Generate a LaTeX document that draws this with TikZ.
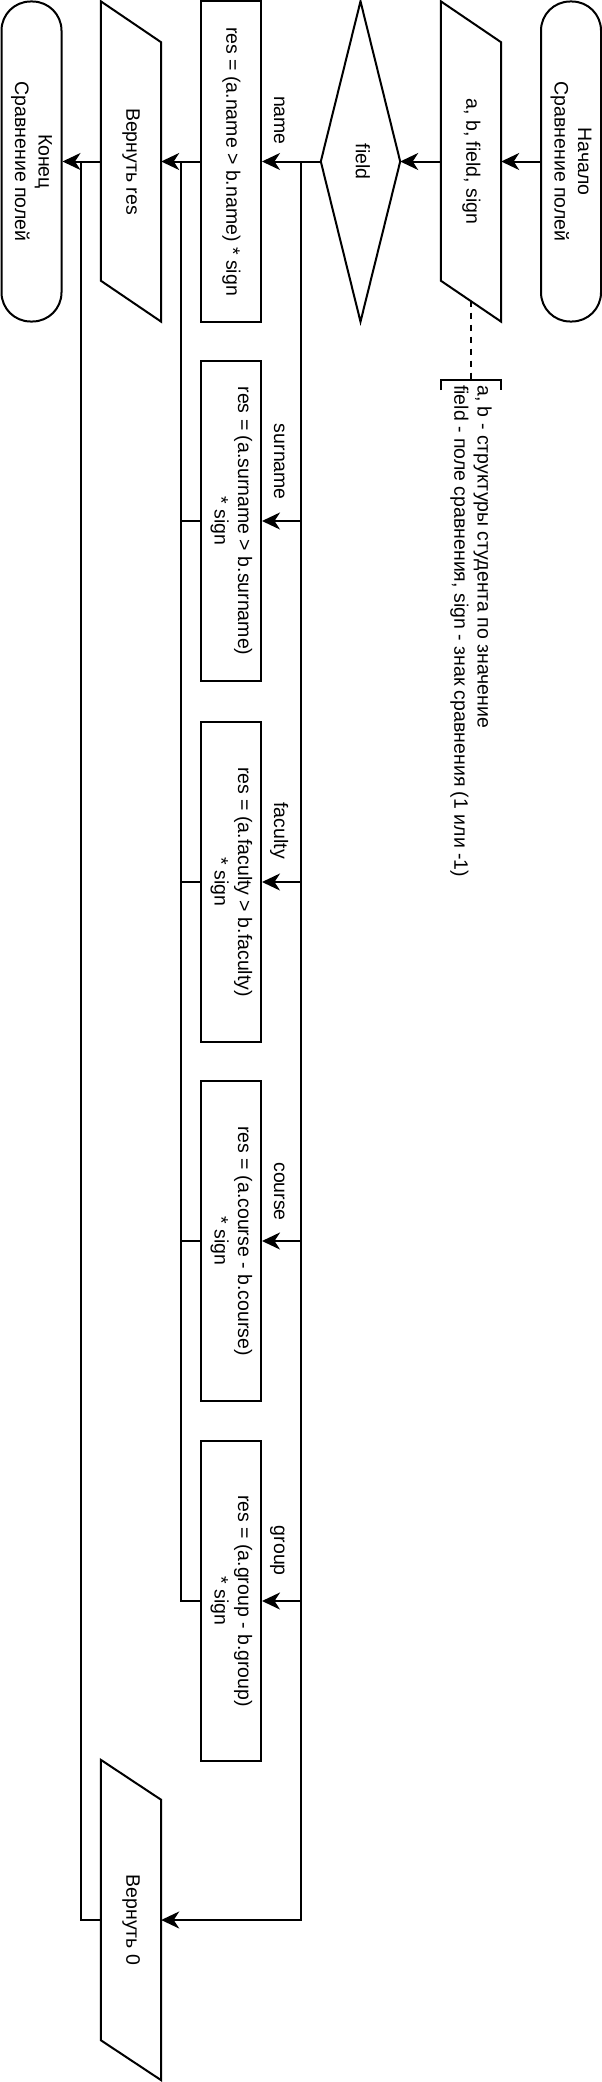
\documentclass[tikz,border=0pt]{standalone}
\usepackage{fontspec}
\setmainfont{Liberation Sans}
\usepackage{graphicx}
\usetikzlibrary{arrows.meta}
\newcommand{\rt}[1]{\rotatebox{-90}{\begin{tabular}{@{}c@{}}#1\end{tabular}}}
\begin{document}
\begin{tikzpicture}[x=1pt,y=-1pt,
  every node/.style={font=\fontsize{19.5}{23.4}\selectfont},
  ln/.style={line width=2pt},
  arr/.style={ln,-{Stealth[length=18pt,width=17pt,inset=5.5pt]}},
  shp/.style={minimum width=60pt,minimum height=320pt,inner sep=0pt},
  term/.style={shp,draw,ln,rounded corners=29pt},
  proc/.style={shp,draw,ln},
  lbl/.style={rotate=-90,anchor=base east,inner sep=0pt},
  dsh/.style={ln,dash pattern=on 6pt off 6pt}]
\path[use as bounding box] (0,0) rectangle (602,2082);
% main row
\node[term] (start) at (571,161.5) {\rt{Начало\\Сравнение полей}};
\node[shp] (in) at (471,161.5) {\rt{a, b, field, sign}};
\draw[ln] (in.north west) -- ([yshift=-41pt]in.north east) -- (in.south east) -- ([yshift=41pt]in.south west) -- cycle;
\node[shp,minimum width=79pt] (field) at (360.5,161.5) {\rt{field}};
\draw[ln] (field.north) -- (field.east) -- (field.south) -- (field.west) -- cycle;
\node[proc] (bname) at (231,161.5) {\rt{res = (a.name > b.name) * sign}};
\node[shp] (rres) at (131,161.5) {\rt{Вернуть res}};
\draw[ln] (rres.north west) -- ([yshift=-41pt]rres.north east) -- (rres.south east) -- ([yshift=41pt]rres.south west) -- cycle;
\node[term] (fin) at (31.5,161.5) {\rt{Конец\\Сравнение полей}};
% other branches
\node[proc] (bsur) at (231,521) {\rt{res = (a.surname > b.surname)\\{*} sign}};
\node[proc] (bfac) at (231,882) {\rt{res = (a.faculty > b.faculty)\\{*} sign}};
\node[proc] (bcou) at (231,1241) {\rt{res = (a.course - b.course)\\{*} sign}};
\node[proc] (bgrp) at (231,1601) {\rt{res = (a.group - b.group)\\{*} sign}};
\node[shp] (r0) at (131,1920) {\rt{Вернуть 0}};
\draw[ln] (r0.north west) -- ([yshift=-40pt]r0.north east) -- (r0.south east) -- ([yshift=40pt]r0.south west) -- cycle;
% comment
\coordinate (d1) at (470.5,300.5);
\coordinate (bl) at (441,380);
\coordinate (br) at (501,380);
\coordinate (d2) at (470.5,380);
\draw[dsh] (d1) -- (d2);
\draw[ln] ([yshift=-10pt]bl) -- (bl) -- (br) -- ([yshift=-10pt]br);
\node[rotate=-90,anchor=west,align=left,inner sep=0pt] (cmt) at (471,385)
  {a, b - структуры студента по значение\\field - поле сравнения, sign - знак сравнения (1 или -1)};
% connectors
\coordinate (bx) at (300.5,161.5);
\coordinate (mx) at (180.5,161.5);
\coordinate (ex) at (81,161.5);
\draw[arr] (start.west) -- (in.east);
\draw[arr] (in.west) -- (field.east);
\draw[arr] (field.west) -- (bname.east);
\draw[arr] (bname.west) -- (rres.east);
\draw[arr] (rres.west) -- (fin.east);
\draw[arr] (bx) |- (r0.east);
\draw[arr] (bx |- bsur.east) -- (bsur.east);
\draw[arr] (bx |- bfac.east) -- (bfac.east);
\draw[arr] (bx |- bcou.east) -- (bcou.east);
\draw[arr] (bx |- bgrp.east) -- (bgrp.east);
\draw[ln] (bsur.west) -- (mx |- bsur.west);
\draw[ln] (bfac.west) -- (mx |- bfac.west);
\draw[ln] (bcou.west) -- (mx |- bcou.west);
\draw[ln] (bgrp.west) -| (mx);
\draw[ln] (r0.west) -| (ex);
% labels
\node[lbl] (lname) at (274,145) {name};
\node[lbl] (lsur) at (274,500) {surname};
\node[lbl] (lfac) at (274,859) {faculty};
\node[lbl] (lcou) at (274,1221) {course};
\node[lbl] (lgrp) at (274,1576) {group};
\end{tikzpicture}
\end{document}
